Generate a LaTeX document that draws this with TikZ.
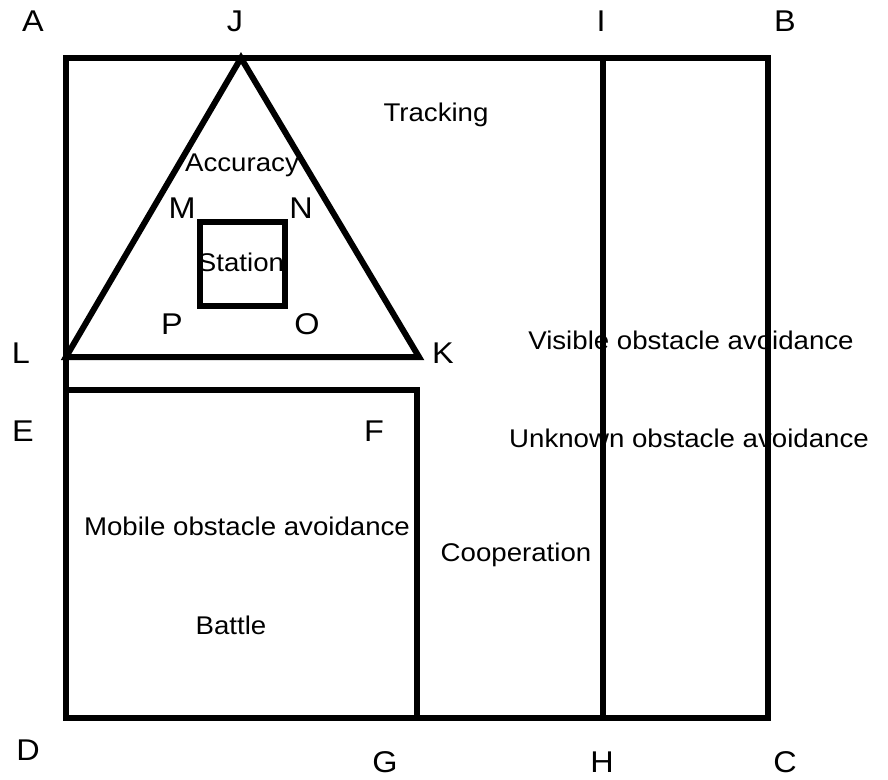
\documentclass[tikz,border=0pt]{standalone}
\usepackage{fontspec}
\setmainfont{Liberation Sans}[FakeStretch=1.08]
\begin{document}
\begin{tikzpicture}[x=1pt,y=-1pt,
  edge/.style={line width=6pt,line join=miter,line cap=butt},
  lbl/.style={inner sep=0pt,anchor=center,font=\fontsize{30}{32}\selectfont},
  txt/.style={inner sep=0pt,anchor=center,font=\fontsize{25.6}{28}\selectfont}]
\useasboundingbox (0,0) rectangle (888,779);
% corner points
\coordinate (pA) at (66,58);
\coordinate (pB) at (768,58);
\coordinate (pC) at (768,718);
\coordinate (pD) at (66,718);
\coordinate (pI) at (603,58);
\coordinate (pH) at (603,718);
\coordinate (pJ) at (241,58);
\coordinate (pL) at (66,357);
\coordinate (pK) at (419,357);
\coordinate (pE) at (66,390);
\coordinate (pF) at (417,390);
\coordinate (pG) at (417,718);
\coordinate (pM) at (200,222);
\coordinate (pN) at (285,222);
\coordinate (pO) at (285,306);
\coordinate (pP) at (200,306);
% shapes
\draw[edge] (pA) -- (pB) -- (pC) -- (pD) -- cycle;
\draw[edge] (pI) -- (pH);
\draw[edge] (pJ) -- (pK) -- (pL) -- cycle;
\draw[edge] (pE) -- (pF) -- (pG);
\draw[edge] (pM) -- (pN) -- (pO) -- (pP) -- cycle;
% letter labels
\node[lbl] (lA) at (33,21) {A};
\node[lbl] (lJ) at (235,21) {J};
\node[lbl] (lI) at (601,21) {I};
\node[lbl] (lB) at (785,21) {B};
\node[lbl] (lL) at (21,353) {L};
\node[lbl] (lK) at (443,353) {K};
\node[lbl] (lE) at (23,431) {E};
\node[lbl] (lF) at (374,431) {F};
\node[lbl] (lD) at (28,750) {D};
\node[lbl] (lG) at (385,762) {G};
\node[lbl] (lH) at (602,762) {H};
\node[lbl] (lC) at (785,762) {C};
\node[lbl] (lM) at (182,208) {M};
\node[lbl] (lN) at (301,208) {N};
\node[lbl] (lP) at (172,324) {P};
\node[lbl] (lO) at (307,324) {O};
% area texts
\node[txt] (tTracking) at (436,115) {Tracking};
\node[txt] (tAccuracy) at (242,165) {Accuracy};
\node[txt] (tStation) at (241,262) {Station};
\node[txt] (tVisible) at (691,340) {Visible obstacle avoidance};
\node[txt] (tUnknown) at (689,438) {Unknown obstacle avoidance};
\node[txt] (tMobile) at (247,526) {Mobile obstacle avoidance};
\node[txt] (tCoop) at (516,555) {Cooperation};
\node[txt] (tBattle) at (231,625) {Battle};
\end{tikzpicture}
\end{document}
